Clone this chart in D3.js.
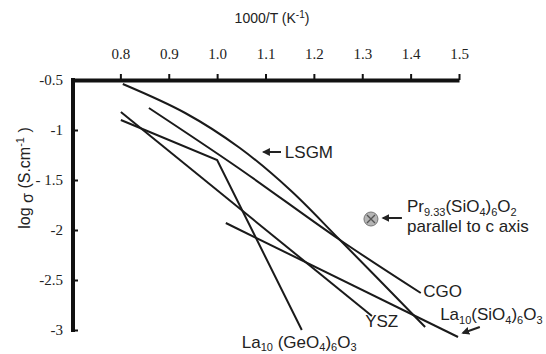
<!DOCTYPE html>
<meta charset="utf-8">
<script src="https://d3js.org/d3.v7.min.js"></script>
<style>
  body { margin: 0; background: #fff; }
  text { font-family: "Liberation Sans", Arial, sans-serif; fill: #222; }
</style>
<div id="chart"></div>
<script>
// tick values / labels
const xTicks = [0.8, 0.9, 1.0, 1.1, 1.2, 1.3, 1.4, 1.5];
const yTicks = [-0.5, -1, -1.5, -2, -2.5, -3];
const yTickLabels = ["-0.5", "-1", "- 1.5", "-2", "-2.5", "-3"];

// series (x = 1000/T, y = log sigma)
const lsgmX = [0.805, 0.934, 1.047, 1.151, 1.254, 1.430];
const lsgmY = [-0.54, -0.83, -1.18, -1.60, -2.10, -2.97];
const cgoX = [0.859, 1.041, 1.254, 1.421];
const cgoY = [-0.78, -1.37, -2.10, -2.63];
const yszX = [0.801, 1.320];
const yszY = [-0.82, -2.86];
const laGeX = [0.801, 1.000, 1.175];
const laGeY = [-0.90, -1.30, -3.00];
const laSiX = [1.018, 1.498];
const laSiY = [-1.93, -3.07];
const prX = [1.318];
const prY = [-1.89];

const width = 546, height = 354;
const margin = {top: 80, left: 72};

const svg = d3.select("#chart")
  .append("svg")
  .attr("width", width)
  .attr("height", height);

const x = d3.scaleLinear().domain([0.7, 1.5]).range([72, 459]);
const y = d3.scaleLinear().domain([-0.5, -3]).range([80, 330]);

svg.append("defs").append("marker")
  .attr("id", "head")
  .attr("viewBox", "0 0 10 10")
  .attr("refX", 8).attr("refY", 5)
  .attr("markerWidth", 4).attr("markerHeight", 4)
  .attr("orient", "auto-start-reverse")
  .append("path")
  .attr("d", "M0,0L10,5L0,10z")
  .attr("fill", "#222");

// axes
const xAxis = svg.append("g")
  .attr("transform", `translate(0, ${margin.top})`)
  .call(d3.axisTop(x).tickValues(xTicks).tickFormat(d3.format(".1f"))
    .tickSizeInner(6).tickSizeOuter(0).tickPadding(15));
xAxis.select(".domain").attr("stroke", "#111").attr("stroke-width", 4);
xAxis.selectAll(".tick line").attr("stroke", "#111").attr("stroke-width", 2);

const yAxis = svg.append("g")
  .attr("transform", `translate(${margin.left + 1}, 0)`)
  .call(d3.axisLeft(y).tickValues(yTicks).tickFormat((d, i) => yTickLabels[i])
    .tickSizeInner(-5).tickSizeOuter(0).tickPadding(10));
yAxis.select(".domain").attr("stroke", "#111").attr("stroke-width", 4)
  .attr("d", `M0,${y(-0.5) - 2}V${y(-3) + 2}`);
yAxis.selectAll(".tick line").attr("stroke", "#111").attr("stroke-width", 2);

svg.selectAll(".tick text")
  .style("font-family", "'Liberation Serif', 'Times New Roman', serif")
  .style("font-size", "15px")
  .style("fill", "#222");

// axis titles
const xt = svg.append("text")
  .attr("x", 272).attr("y", 23)
  .attr("text-anchor", "middle")
  .style("font-size", "14px");
xt.append("tspan").text("1000/T (K");
xt.append("tspan").attr("dy", -5).style("font-size", "10px").text("-1");
xt.append("tspan").attr("dy", 5).text(")");

const yt = svg.append("text")
  .attr("transform", "translate(30, 178) rotate(-90)")
  .attr("text-anchor", "middle")
  .style("font-size", "16px");
yt.append("tspan").text("log ");
yt.append("tspan").attr("dy", 3).text("σ");
yt.append("tspan").attr("dy", -3).text(" (S.cm");
yt.append("tspan").attr("dy", -6).style("font-size", "11px").text("-1");
yt.append("tspan").attr("dy", 6).text(" )");

// lines
const series = [
  {xs: lsgmX, ys: lsgmY, curve: d3.curveCatmullRom},
  {xs: cgoX, ys: cgoY, curve: d3.curveCatmullRom},
  {xs: yszX, ys: yszY, curve: d3.curveLinear},
  {xs: laGeX, ys: laGeY, curve: d3.curveLinear},
  {xs: laSiX, ys: laSiY, curve: d3.curveLinear}
];

series.forEach(s => {
  const pts = s.xs.map((v, i) => [v, s.ys[i]]);
  svg.append("path")
    .datum(pts)
    .attr("fill", "none")
    .attr("stroke", "#1a1a1a")
    .attr("stroke-width", 2)
    .attr("d", d3.line().x(d => x(d[0])).y(d => y(d[1])).curve(s.curve));
});

// Pr point
const pr = svg.append("g").selectAll("g")
  .data(prX.map((v, i) => [v, prY[i]]))
  .join("g")
  .attr("transform", d => `translate(${x(d[0])}, ${y(d[1])})`);
pr.append("circle").attr("r", 7).attr("fill", "#b5b5b5").attr("stroke", "#777").attr("stroke-width", 1);
pr.append("path").attr("d", "M-4,-4L4,4M-4,4L4,-4").attr("stroke", "#555").attr("stroke-width", 1.3);

// labels
function chem(xv, yv, parts, subShift = 4) {
  const t = svg.append("text")
    .attr("x", x(xv)).attr("y", y(yv))
    .style("font-size", "17px");
  let shift = 0;
  parts.forEach(p => {
    const sub = p[1];
    const dy = (sub ? subShift : 0) - shift;
    shift = sub ? subShift : 0;
    t.append("tspan")
      .attr("dy", dy)
      .style("font-size", sub ? "11px" : "17px")
      .text(p[0]);
  });
  return t;
}

function arrow(x1, y1, x2, y2) {
  svg.append("line")
    .attr("x1", x(x1)).attr("y1", y(y1))
    .attr("x2", x(x2)).attr("y2", y(y2))
    .attr("stroke", "#222").attr("stroke-width", 2)
    .attr("marker-end", "url(#head)");
}

chem(1.140, -1.28, [["LSGM", false]]);
arrow(1.132, -1.22, 1.096, -1.22);

chem(1.426, -2.67, [["CGO", false]]);
chem(1.306, -2.97, [["YSZ", false]]);
chem(1.051, -3.175, [["La", false], ["10", true], [" (GeO", false], ["4", true], [")", false], ["6", true], ["O", false], ["3", true]], 3);
chem(1.461, -2.90, [["La", false], ["10", true], ["(SiO", false], ["4", true], [")", false], ["6", true], ["O", false], ["3", true]]);
arrow(1.543, -2.97, 1.508, -3.03);

chem(1.3925, -1.82, [["Pr", false], ["9.33", true], ["(SiO", false], ["4", true], [")", false], ["6", true], ["O", false], ["2", true]]);
chem(1.3925, -2.02, [["parallel to c axis", false]]);
arrow(1.382, -1.88, 1.343, -1.88);
</script>
